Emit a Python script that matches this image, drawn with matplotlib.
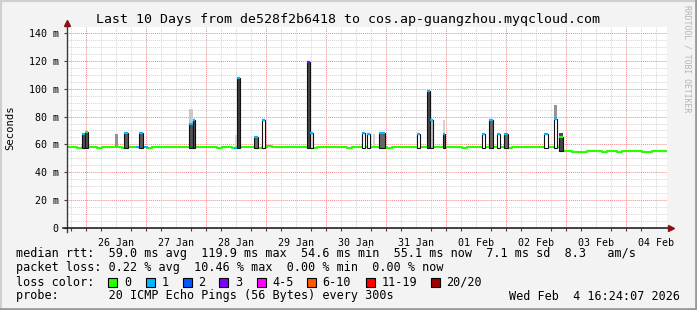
import numpy as np
import matplotlib
matplotlib.use('Agg')
import matplotlib.pyplot as plt
from matplotlib.patches import Rectangle
from matplotlib.lines import Line2D

# time axis: hours since Sun Jan 25 16:24:07 2026 (graph start), 10 days shown
first_midnight = 7.598          # 26 Jan 00:00
day_labels = ['26 Jan', '27 Jan', '28 Jan', '29 Jan', '30 Jan',
              '31 Jan', '01 Feb', '02 Feb', '03 Feb', '04 Feb']

# median rtt (ms), one value per 2 hours
base_step = 2.0
base_ms = [
    58.2, 58.0, 57.6, 58.1, 58.3, 57.9, 57.7, 58.0, 58.2, 57.8, 58.0, 57.6,
    58.0, 58.3, 57.9, 58.0, 57.7, 58.1, 58.4, 58.2, 58.0, 57.8, 58.0, 58.1,
    58.2, 58.0, 58.3, 57.9, 57.8, 58.0, 57.7, 58.1, 58.0, 57.6, 58.2, 58.4,
    57.9, 58.0, 57.7, 58.1, 58.6, 58.0, 57.8, 58.2, 57.9, 58.0, 58.1, 57.8,
    58.0, 57.7, 58.2, 58.0, 57.9, 58.3, 58.1, 57.8, 57.6, 58.0, 58.2, 58.1,
    57.9, 58.0, 58.1, 57.8, 57.7, 58.0, 58.2, 58.3, 58.0, 57.9, 58.1, 58.0,
    57.8, 58.0, 58.2, 57.9, 58.0, 58.1, 57.8, 57.7, 58.0, 58.2, 57.9, 58.0,
    58.1, 57.8, 58.0, 57.9, 57.7, 58.3, 58.0, 57.8, 58.0, 58.0, 57.9, 58.1,
    58.0, 57.8, 58.2, 55.0, 55.0, 54.8, 54.6, 54.9, 55.0, 55.1, 55.0, 54.9,
    55.0, 55.1, 54.9, 55.0, 55.0, 55.1, 55.0, 54.7, 54.9, 55.0, 55.0, 55.0,
]

# short periods with 1/20 loss on the normal median
base_loss_start = [28.0, 31.2, 67.2]
base_loss_len = [1.2, 0.8, 0.8]

# spikes: start hour, length (h), median ms, smoke top ms, lost pings, smoke density
spike_start = [6.0, 7.2, 22.8, 28.8, 48.8, 50.4, 68.0, 74.8, 78.0, 96.0, 97.2,
               118.0, 120.0, 124.8, 140.0, 144.0, 145.2, 150.4, 166.0, 168.8,
               172.0, 174.8, 190.8, 194.8, 196.8]
spike_len = [1.2, 1.1, 1.6, 1.6, 1.6, 0.8, 1.2, 1.6, 1.2, 1.2, 1.2,
             1.2, 1.2, 2.4, 1.2, 1.2, 1.2, 0.8, 1.2, 1.6,
             1.2, 1.6, 1.6, 1.2, 1.6]
spike_median = [67.5, 68.7, 68.5, 68.0, 75.0, 77.5, 108.0, 65.5, 77.5, 119.5, 68.0,
                68.0, 67.5, 68.0, 67.5, 98.0, 77.5, 67.5, 67.5, 77.5,
                67.5, 67.5, 67.5, 78.5, 65.0]
spike_smoke = [67.5, 68.7, 68.5, 68.0, 85.4, 77.5, 108.0, 65.5, 77.5, 119.5, 68.0,
               68.0, 67.5, 68.0, 67.5, 98.0, 77.5, 77.5, 67.5, 77.5,
               67.5, 67.5, 67.5, 88.3, 68.5]
spike_loss = [1, 0, 1, 1, 1, 1, 1, 1, 1, 3, 1,
              1, 1, 1, 1, 1, 1, 1, 1, 1,
              1, 1, 1, 1, 0]
spike_density = [0.8, 0.8, 0.75, 0.75, 0.8, 0.8, 0.9, 0.7, 0.0, 0.85, 0.15,
                 0.0, 0.0, 0.7, 0.0, 0.85, 0.3, 0.75, 0.0, 0.7,
                 0.0, 0.7, 0.0, 0.0, 0.85]
spike_upper_density = [0, 0, 0, 0, 0.25, 0, 0, 0, 0, 0, 0,
                       0, 0, 0, 0, 0, 0, 0.2, 0, 0,
                       0, 0, 0, 0.5, 0.85]

# smoke without a median jump
smoke_start = [19.2, 67.2, 122.4]
smoke_len = [1.1, 0.8, 0.8]
smoke_top = [67.5, 67.0, 67.5]
smoke_density = [0.5, 0.2, 0.2]

loss_labels = ['0', '1', '2', '3', '4-5', '6-10', '11-19', '20/20']
loss_colors = ['#26ff00', '#00b8ff', '#0059ff', '#7e00ff', '#ff00ff',
               '#ff5500', '#ff0000', '#a10000']

W, H = 697, 310
MONO = 'DejaVu Sans Mono'
plt.rcParams['font.family'] = MONO

fig = plt.figure(figsize=(W / 100, H / 100), dpi=100, facecolor='#f3f3f3')


def fx(x):
    return x / W


def fy(y):
    return 1 - y / H


ax = fig.add_axes([fx(67), fy(228), 600 / W, 201 / H])
ax.set_facecolor('white')
ax.set_xlim(0, 240)
ax.set_ylim(0, 144.3)
for s in ax.spines.values():
    s.set_visible(False)

# grid, rrdtool style
dots = (0, (1, 1))
for h in np.arange(first_midnight % 6, 240, 6):
    if abs((h - first_midnight) % 24) > 0.01:
        ax.axvline(h, color='#d4d4d4', lw=0.7, ls=dots, zorder=0)
for v in range(5, 145, 5):
    if v % 20:
        ax.axhline(v, color='#d4d4d4', lw=0.7, ls=dots, zorder=0)
for h in np.arange(first_midnight, 240, 24):
    ax.axvline(h, color='#f08a8a', lw=0.7, ls=dots, zorder=0.5)
for v in range(20, 145, 20):
    ax.axhline(v, color='#f08a8a', lw=0.7, ls=dots, zorder=0.5)

# smoke
for s, l, t, d in zip(smoke_start, smoke_len, smoke_top, smoke_density):
    g = 1 - 0.85 * d
    ax.bar(s, t - 57.5, width=l, bottom=57.5, align='edge',
           color=(g, g, g), lw=0, zorder=2)

# median line
base_x = np.arange(len(base_ms) + 1) * base_step
ax.step(base_x, base_ms + [base_ms[-1]], where='post',
        color=loss_colors[0], lw=1.5, zorder=3)
for s, l in zip(base_loss_start, base_loss_len):
    i = int(s // base_step)
    ax.plot([s, s + l], [base_ms[i]] * 2, color=loss_colors[1], lw=1.5, zorder=3.5)

# spikes
for s, l, m, t, lo, d, ud in zip(spike_start, spike_len, spike_median, spike_smoke,
                                 spike_loss, spike_density, spike_upper_density):
    bottom = 55.0 if s > 196 else 57.5
    g = 1 - 0.85 * d
    ax.bar(s, m - bottom, width=l, bottom=bottom, align='edge',
           color=(g, g, g), edgecolor='#111111', lw=0.8, zorder=4)
    if t > m:
        ug = 1 - 0.85 * ud
        ax.bar(s, t - m, width=l, bottom=m, align='edge',
               color=(ug, ug, ug), lw=0, zorder=4)
    ax.plot([s, s + l], [m, m], color=loss_colors[lo], lw=1.6,
            solid_capstyle='butt', zorder=5)

# ticks
ax.set_yticks(range(0, 141, 20))
ax.set_yticklabels(['0'] + ['%d m' % v for v in range(20, 141, 20)])
ax.tick_params(axis='y', length=2, width=0.8, pad=4, labelsize=7.2, color='#444444')
noons = first_midnight + 12 + 24 * np.arange(len(day_labels))
ax.set_xticks(noons)
ax.set_xticklabels(day_labels)
ax.set_xticks(np.arange(first_midnight % 6, 240, 6), minor=True)
ax.tick_params(axis='x', which='major', length=0, pad=7, labelsize=7.2)
ax.tick_params(axis='x', which='minor', length=2, width=0.8, color='#444444')

# axes with arrows
ax.add_line(Line2D([0, 0], [-0.02, 1.012], transform=ax.transAxes,
                   color='#3a3a3a', lw=1, clip_on=False, zorder=6))
ax.add_line(Line2D([-0.006, 1.006], [0, 0], transform=ax.transAxes,
                   color='#111111', lw=1.1, clip_on=False, zorder=6))
ax.plot(0, 1.018, marker='^', ms=5, color='#8b1010', transform=ax.transAxes,
        clip_on=False, zorder=7)
ax.plot(1.007, 0, marker='>', ms=5, color='#8b1010', transform=ax.transAxes,
        clip_on=False, zorder=7)

# titles
fig.text(fx(348), fy(19), 'Last 10 Days from de528f2b6418 to cos.ap-guangzhou.myqcloud.com',
         ha='center', va='center', fontsize=9.5)
fig.text(fx(10), fy(128), 'Seconds', rotation=90, ha='center', va='center', fontsize=7.6)
fig.text(fx(687.5), fy(5), 'RRDTOOL / TOBI OETIKER', rotation=270, ha='center', va='top',
         fontsize=5.9, color='#b5b5b5')

# legend
leg = dict(ha='left', va='center', fontsize=8.5)
fig.text(fx(16), fy(254), 'median rtt:  59.0 ms avg  119.9 ms max  54.6 ms min  55.1 ms now  7.1 ms sd  8.3   am/s', **leg)
fig.text(fx(16), fy(268), 'packet loss: 0.22 % avg  10.46 % max  0.00 % min  0.00 % now', **leg)
fig.text(fx(16), fy(282), 'loss color:', **leg)
fig.text(fx(16), fy(296), 'probe:       20 ICMP Echo Pings (56 Bytes) every 300s', **leg)
fig.text(fx(680), fy(296), 'Wed Feb  4 16:24:07 2026', ha='right', va='center', fontsize=8.5)

box_x = [108.3, 145.7, 182.7, 219.3, 256.7, 306.7, 365.7, 430.7]
for bx, lab, c in zip(box_x, loss_labels, loss_colors):
    fig.add_artist(Rectangle((fx(bx), fy(286.5)), 9 / W, 9 / H, transform=fig.transFigure,
                             facecolor=c, edgecolor='black', lw=0.8))
    fig.text(fx(bx + 15.5), fy(282), lab, **leg)

# frame
fig.add_artist(Line2D([0, 1], [fy(1), fy(1)], color='#cfcfcf', lw=1.5))
fig.add_artist(Line2D([fx(1), fx(1)], [0, 1], color='#cfcfcf', lw=1.5))
fig.add_artist(Line2D([0, 1], [fy(308.5), fy(308.5)], color='#9a9a9a', lw=2))
fig.add_artist(Line2D([fx(695.5), fx(695.5)], [0, 1], color='#9a9a9a', lw=2))

fig.savefig('out.png', dpi=100, facecolor=fig.get_facecolor())
